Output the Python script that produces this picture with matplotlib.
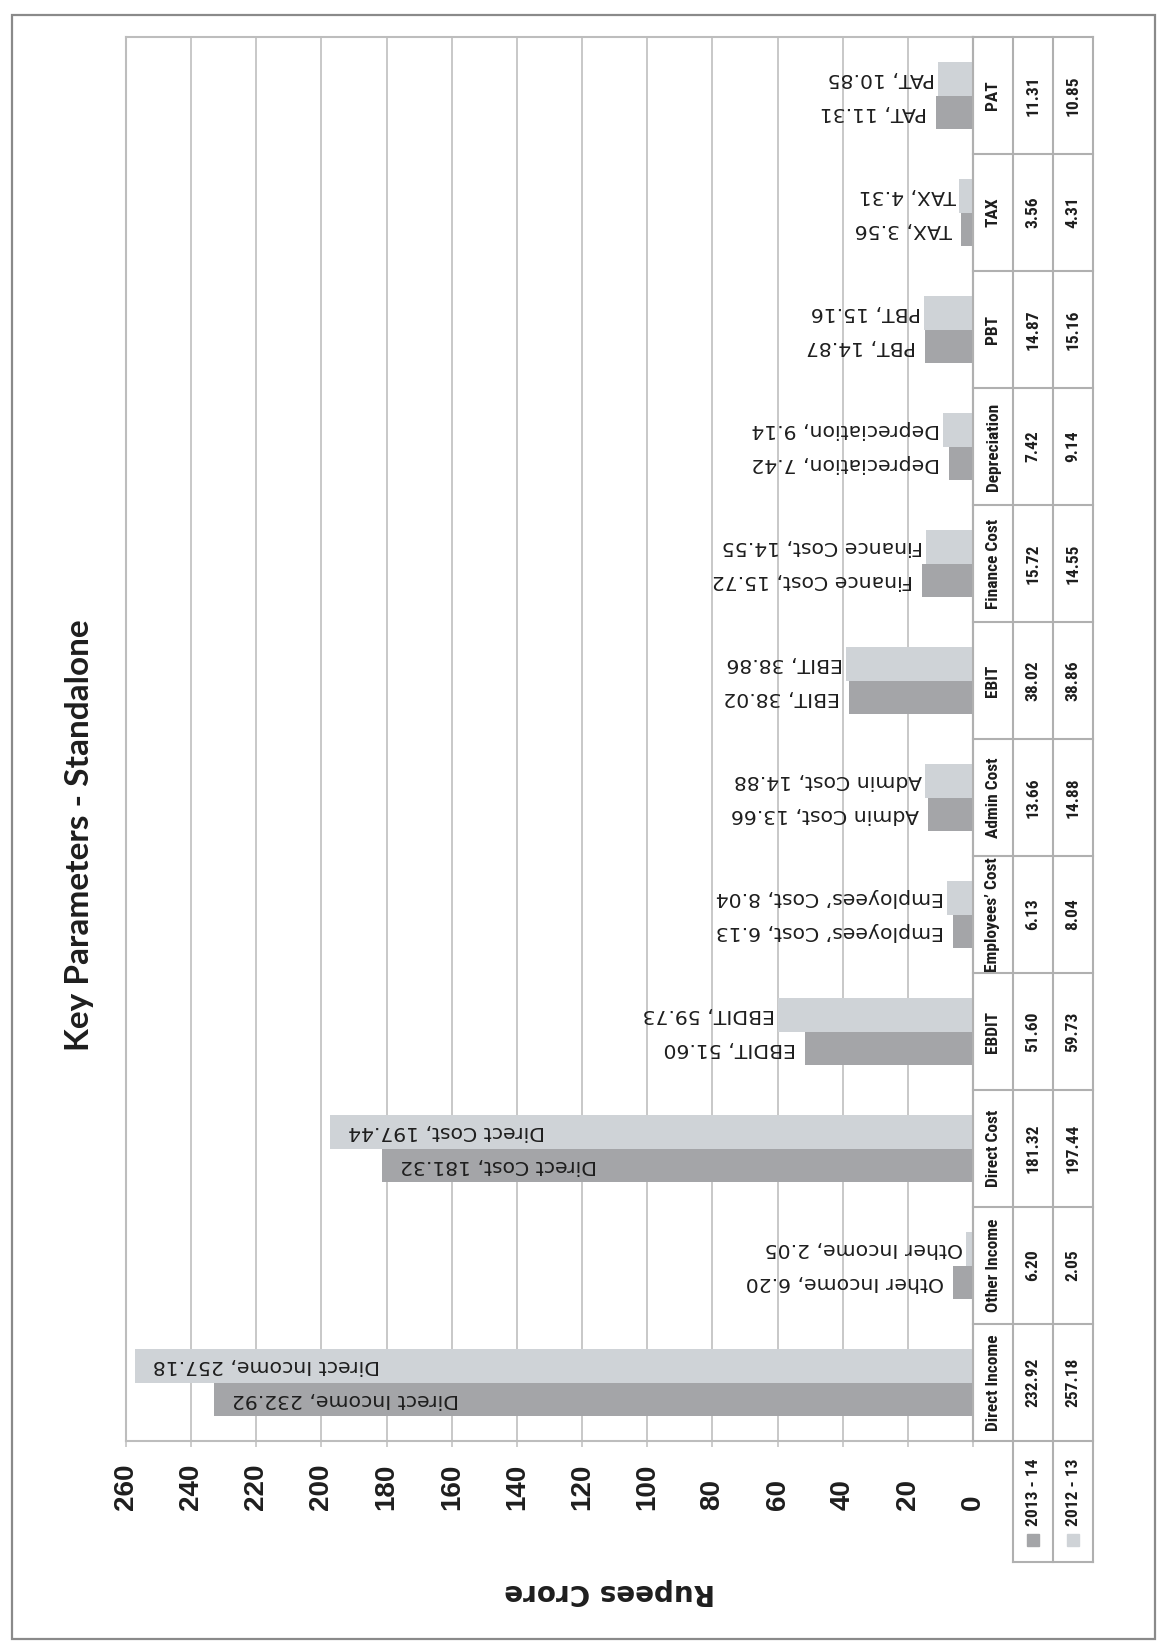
import matplotlib
matplotlib.use("Agg")
import matplotlib.pyplot as plt
from matplotlib import font_manager, transforms
from matplotlib.patches import Rectangle
import numpy as np

# ---------------- data ----------------
categories = ["Direct Income", "Other Income", "Direct Cost", "EBDIT",
              "Employees\u2019 Cost", "Admin Cost", "EBIT", "Finance Cost",
              "Depreciation", "PBT", "TAX", "PAT"]
series_names = ["2013 - 14", "2012 - 13"]
values_2013_14 = [232.92, 6.20, 181.32, 51.60, 6.13, 13.66, 38.02, 15.72, 7.42, 14.87, 3.56, 11.31]
values_2012_13 = [257.18, 2.05, 197.44, 59.73, 8.04, 14.88, 38.86, 14.55, 9.14, 15.16, 4.31, 10.85]
value_ticks = list(range(0, 261, 20))
title = "Key Parameters - Standalone"
axis_title = "Rupees Crore"

# ---------------- style ----------------
W, H = 1162, 1648
DARK = "#a4a5a8"
LIGHT = "#cfd3d7"
GRID = "#c4c4c4"
TXT = "#1e1e1e"

def fx(px):
    return px / W

def fy(py):
    return 1 - py / H

TABLE_FAMILY, TABLE_SIZE, TABLE_WEIGHT = "Liberation Sans", 11, "bold"
for fam, size in (("Liberation Sans Narrow", 13), ("DejaVu Sans Condensed", 11.5),
                  ("Roboto Condensed", 12.5), ("Open Sans Condensed", 12.5)):
    try:
        font_manager.findfont(font_manager.FontProperties(family=fam),
                              fallback_to_default=False)
        TABLE_FAMILY, TABLE_SIZE = fam, size
        break
    except Exception:
        pass

fig = plt.figure(figsize=(W / 100, H / 100), dpi=100)
fig.patch.set_facecolor("white")

# outer border
fig.patches.append(Rectangle((fx(12), fy(1639)), fx(1155) - fx(12), fy(15) - fy(1639),
                             transform=fig.transFigure, fill=False,
                             edgecolor="#8a8a8a", linewidth=1.6))

# ---------------- main plot ----------------
PL, PR, PT, PB = 126, 973, 37, 1441
ax = fig.add_axes([fx(PL), fy(PB), fx(PR) - fx(PL), fy(PT) - fy(PB)])
n = len(categories)
ypos = np.arange(n)
bh = 0.286
ax.set_xlim(260, 0)
ax.set_ylim(-0.5, n - 0.5)
ax.barh(ypos - bh / 2, values_2013_14, height=bh, color=DARK, zorder=3)
ax.barh(ypos + bh / 2, values_2012_13, height=bh, color=LIGHT, zorder=3)

ax.set_xticks(value_ticks)
ax.grid(axis="x", color=GRID, linewidth=1.3, zorder=0)
ax.set_yticks([])
ax.tick_params(axis="x", length=4, width=1.2, color=GRID, direction="out",
               labelbottom=False)
for s in ax.spines.values():
    s.set_color("#bdbdbd")
    s.set_linewidth(1.5)

# value tick labels (rotated)
tr = transforms.blended_transform_factory(ax.transData, fig.transFigure)
for v in value_ticks:
    ax.text(v, fy(1510), str(v), transform=tr, rotation=90, ha="center", va="bottom",
            fontsize=20, fontweight="bold", family="Liberation Sans", color=TXT)

# bar data labels (upside down)
for vals, sign, out_off in ((values_2013_14, -1, 9), (values_2012_13, 1, 3)):
    for i, (c, v) in enumerate(zip(categories, vals)):
        y = i + sign * bh / 2
        lab = f"{c}, {v:.2f}"
        if v > 150:
            ax.annotate(lab, (v, y), xytext=(18, 0), textcoords="offset pixels",
                        rotation=180, ha="left", va="center", fontsize=14.7,
                        family="DejaVu Sans", color=TXT, zorder=4)
        else:
            ax.annotate(lab, (v, y), xytext=(-out_off, 0), textcoords="offset pixels",
                        rotation=180, ha="right", va="center", fontsize=14.7,
                        family="DejaVu Sans", color=TXT, zorder=4)

# ---------------- data table ----------------
TL, TR_, TB = 973, 1093, 1562
unit = (PB - PT) / n
tax = fig.add_axes([fx(TL), fy(TB), fx(TR_) - fx(TL), fy(PT) - fy(TB)])
ylow = -0.5 - (TB - PB) / unit
tax.set_xlim(0, 3)
tax.set_ylim(ylow, n - 0.5)
tax.axis("off")
LC = "#b0b0b0"
kw = dict(color=LC, linewidth=1.5, clip_on=False)
tax.plot([0, 0], [-0.5, n - 0.5], **kw)
for xx in (1, 2, 3):
    tax.plot([xx, xx], [ylow, n - 0.5], **kw)
for k in range(n + 1):
    tax.plot([0, 3], [k - 0.5, k - 0.5], **kw)
tax.plot([1, 3], [ylow, ylow], **kw)

tkw = dict(rotation=90, ha="center", va="center", fontsize=TABLE_SIZE,
           family=TABLE_FAMILY, fontweight=TABLE_WEIGHT, color=TXT)
for i, c in enumerate(categories):
    tax.text(0.5, i, c, **tkw)
    tax.text(1.5, i, f"{values_2013_14[i]:.2f}", **tkw)
    tax.text(2.5, i, f"{values_2012_13[i]:.2f}", **tkw)

def ty(py):
    return (n - 0.5) - (py - PT) / unit

for j, (name, col) in enumerate(zip(series_names, (DARK, LIGHT))):
    tax.plot([1.5 + j], [ty(1540)], marker="s", markersize=8, color=col,
             linestyle="none", clip_on=False)
    tax.text(1.5 + j, ty(1526), name, rotation=90, ha="center", va="bottom",
             fontsize=TABLE_SIZE, family=TABLE_FAMILY, fontweight=TABLE_WEIGHT,
             color=TXT)

# ---------------- titles ----------------
fig.text(fx(79), fy(835), title, rotation=90, ha="center", va="center",
         fontsize=24, fontweight="bold", family=["Lato", "DejaVu Sans"], color=TXT)
fig.text(fx(610), fy(1592), axis_title, rotation=180, ha="center", va="center",
         fontsize=20, fontweight="bold", family="DejaVu Sans", color=TXT)

fig.savefig("out.png", dpi=100, facecolor="white")
